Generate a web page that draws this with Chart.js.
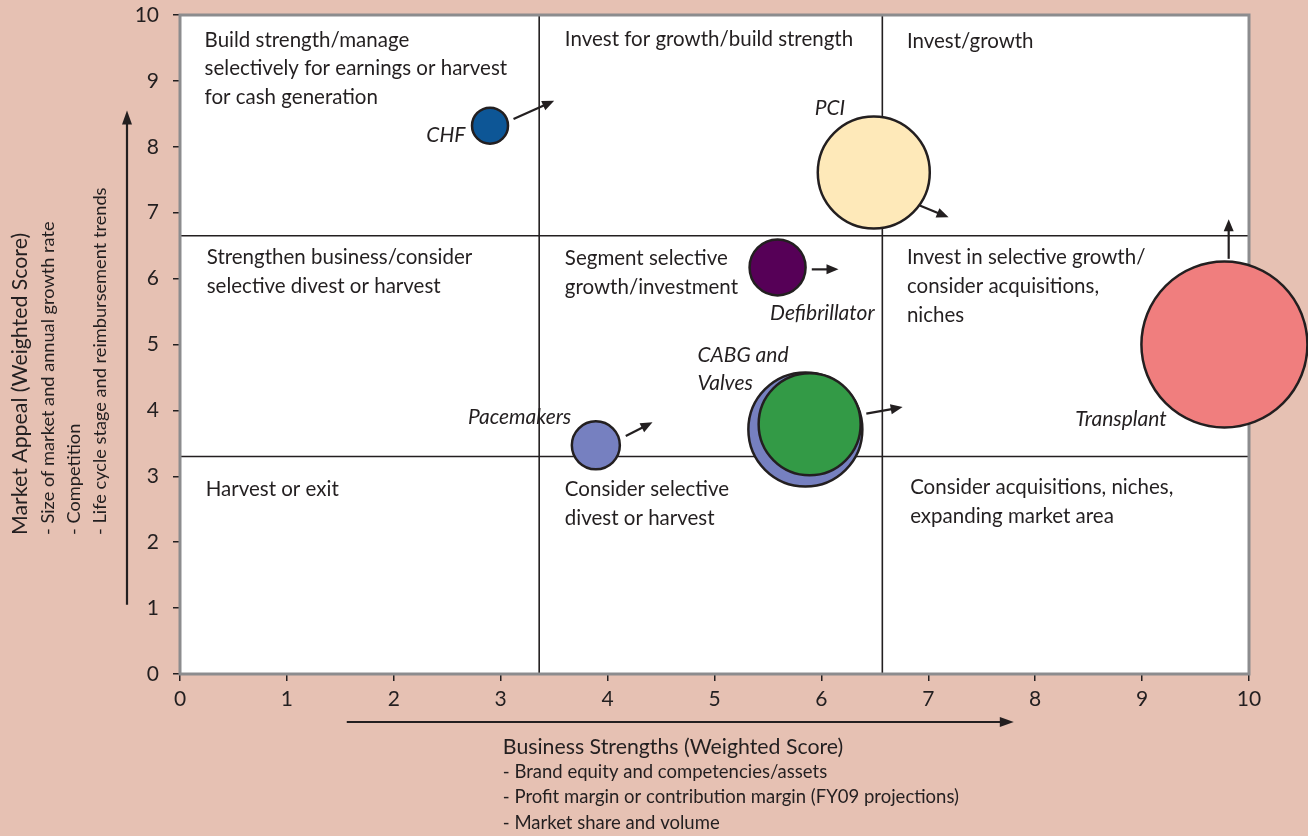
<!DOCTYPE html>
<html><head><meta charset="utf-8">
<script src="https://cdn.jsdelivr.net/npm/chart.js@4.4.1/dist/chart.umd.min.js"></script>
<style>html,body{margin:0;padding:0;background:#e6c1b3;}#wrap{width:1308px;height:836px;position:relative;}</style>
</head><body><div id="wrap"><canvas id="c"></canvas></div>
<script>
// ---- data ----
const products = ['PCI','Transplant','CHF','Defibrillator','Pacemakers','CABG','Valves'];
const businessStrength = [6.49, 9.77, 2.90, 5.59, 3.89, 5.85, 5.89];
const marketAppeal     = [7.61, 5.00, 8.32, 6.17, 3.47, 3.71, 3.79];
const bubbleRadius     = [56, 83, 18, 28, 24, 57, 51];
const bubbleColors     = ['#fee9b9','#f07e7e','#0d5696','#560057','#7680c0','#7680c0','#339a46'];
// trend arrows (from -> to, in score units)
const arrowFromX = [6.92, 9.81, 3.12, 5.91, 4.17, 6.42];
const arrowFromY = [7.11, 6.30, 8.42, 6.14, 3.61, 3.95];
const arrowToX   = [7.19, 9.81, 3.50, 6.16, 4.42, 6.76];
const arrowToY   = [6.93, 6.90, 8.70, 6.14, 3.82, 4.05];
// quadrant dividers
const dividerX = [3.36, 6.57];
const dividerY = [3.30, 6.65];
const tickValues = [0,1,2,3,4,5,6,7,8,9,10];

const quadrantTexts = [
  ['Build strength/manage','selectively for earnings or harvest','for cash generation'],
  ['Invest for growth/build strength'],
  ['Invest/growth'],
  ['Strengthen business/consider','selective divest or harvest'],
  ['Segment selective','growth/investment'],
  ['Invest in selective growth/','consider acquisitions,','niches'],
  ['Harvest or exit'],
  ['Consider selective','divest or harvest'],
  ['Consider acquisitions, niches,','expanding market area']
];
const quadrantPos = [[0.23,9.62],[3.60,9.63],[6.80,9.60],[0.25,6.32],[3.60,6.30],[6.80,6.32],[0.24,2.80],[3.60,2.80],[6.83,2.83]];
const bubbleLabels = [['CHF'],['PCI'],['Defibrillator'],['CABG and','Valves'],['Pacemakers'],['Transplant']];
const bubbleLabelPos = [[2.67,8.18,'right'],[6.08,8.59,'center'],[5.52,5.48,'left'],[4.84,4.83,'left'],[3.66,3.89,'right'],[9.23,3.86,'right']];

const yTitle = ['Market Appeal (Weighted Score)','- Size of market and annual growth rate','- Competition','- Life cycle stage and reimbursement trends'];
const xTitle = ['Business Strengths (Weighted Score)','- Brand equity and competencies/assets','- Profit margin or contribution margin (FY09 projections)','- Market share and volume'];

const INK = '#231f20';
const FONT = 'Lato, "Open Sans", sans-serif';

function arrow(ctx, x1, y1, x2, y2, lw, hl, hw){
  const a = Math.atan2(y2-y1, x2-x1);
  ctx.save();
  ctx.strokeStyle = INK; ctx.fillStyle = INK; ctx.lineWidth = lw;
  ctx.beginPath(); ctx.moveTo(x1,y1);
  ctx.lineTo(x2 - Math.cos(a)*hl*0.8, y2 - Math.sin(a)*hl*0.8); ctx.stroke();
  ctx.translate(x2,y2); ctx.rotate(a);
  ctx.beginPath(); ctx.moveTo(0,0); ctx.lineTo(-hl, -hw/2); ctx.lineTo(-hl, hw/2); ctx.closePath(); ctx.fill();
  ctx.restore();
}

const deco = {
  id:'deco',
  beforeDatasetsDraw(chart){
    const {ctx, chartArea:a, scales:{x,y}} = chart;
    ctx.save();
    ctx.fillStyle = '#ffffff';
    ctx.fillRect(a.left, a.top, a.right-a.left, a.bottom-a.top);
    ctx.strokeStyle = INK; ctx.lineWidth = 1.6;
    dividerX.forEach(v=>{const p=x.getPixelForValue(v); ctx.beginPath(); ctx.moveTo(p,a.top); ctx.lineTo(p,a.bottom); ctx.stroke();});
    dividerY.forEach(v=>{const p=y.getPixelForValue(v); ctx.beginPath(); ctx.moveTo(a.left,p); ctx.lineTo(a.right,p); ctx.stroke();});
    ctx.strokeStyle = '#8c8c8e'; ctx.lineWidth = 3;
    ctx.strokeRect(a.left, a.top, a.right-a.left, a.bottom-a.top);
    // quadrant texts
    ctx.fillStyle = INK; ctx.font = '20.5px ' + FONT; ctx.textAlign='left'; ctx.textBaseline='middle';
    quadrantTexts.forEach((lines,i)=>{
      const px = x.getPixelForValue(quadrantPos[i][0]), py = y.getPixelForValue(quadrantPos[i][1]);
      lines.forEach((t,j)=>ctx.fillText(t, px, py + j*28.7));
    });
    ctx.restore();
  },
  afterDatasetsDraw(chart){
    const {ctx, scales:{x,y}} = chart;
    for(let i=0;i<arrowFromX.length;i++){
      arrow(ctx, x.getPixelForValue(arrowFromX[i]), y.getPixelForValue(arrowFromY[i]),
                 x.getPixelForValue(arrowToX[i]), y.getPixelForValue(arrowToY[i]), 2.2, 12, 10);
    }
    ctx.save();
    ctx.fillStyle = INK; ctx.font = 'italic 21px ' + FONT; ctx.textBaseline='middle';
    bubbleLabels.forEach((lines,i)=>{
      const p = bubbleLabelPos[i];
      ctx.textAlign = p[2];
      const px = x.getPixelForValue(p[0]), py = y.getPixelForValue(p[1]);
      lines.forEach((t,j)=>ctx.fillText(t, px, py + j*28));
    });
    ctx.restore();
  },
  afterDraw(chart){
    const {ctx, chartArea:a, scales:{x,y}} = chart;
    // axis arrows
    arrow(ctx, a.left-53, y.getPixelForValue(1.05), a.left-53, y.getPixelForValue(8.55), 2.2, 14, 10);
    arrow(ctx, x.getPixelForValue(1.56), a.bottom+48, x.getPixelForValue(7.80), a.bottom+48, 2.2, 14, 10);
    ctx.save();
    ctx.fillStyle = INK; ctx.textAlign='left'; ctx.textBaseline='middle';
    // y title
    const yStart = y.getPixelForValue(2.11);
    const yx = [20, 48, 74, 100];
    yTitle.forEach((t,i)=>{
      ctx.save(); ctx.translate(yx[i], yStart); ctx.rotate(-Math.PI/2);
      ctx.font = (i===0?'21.3px ':'18.2px ') + FONT; ctx.fillText(t, 0, 0); ctx.restore();
    });
    // x title
    const xStart = x.getPixelForValue(3.02);
    const xy = [747, 772, 797, 823];
    xTitle.forEach((t,i)=>{
      ctx.font = (i===0?'21.3px ':'18.5px ') + FONT; ctx.fillText(t, xStart, xy[i]);
    });
    ctx.restore();
  }
};

const axisCommon = {
  type:'linear', min:0, max:10,
  afterBuildTicks(s){ s.ticks = tickValues.map(v=>({value:v})); },
  grid:{drawOnChartArea:false, drawTicks:true, tickLength:7, color:INK, lineWidth:1.5},
  border:{display:false},
  ticks:{color:INK, font:{family:'Lato', size:21}}
};

new Chart(document.getElementById('c'), {
  type:'bubble',
  data:{datasets:[{
    label:'Products',
    data: products.map((p,i)=>({x:businessStrength[i], y:marketAppeal[i], r:bubbleRadius[i]})),
    backgroundColor: bubbleColors,
    borderColor: INK, borderWidth: 2.5,
    hoverRadius:0, clip:false
  }]},
  options:{
    responsive:true, maintainAspectRatio:false, animation:false,
    layout:{autoPadding:false, padding:{top:15, right:59, left:0, bottom:0}},
    plugins:{legend:{display:false}, tooltip:{enabled:false}},
    events:[],
    scales:{
      x:{...axisCommon, position:'bottom', ticks:{...axisCommon.ticks, padding:6},
         afterFit(s){ s.height = 162; s.paddingLeft = 0; s.paddingRight = 0; }},
      y:{...axisCommon, position:'left', ticks:{...axisCommon.ticks, padding:14},
         afterFit(s){ s.width = 180; s.paddingTop = 0; s.paddingBottom = 0; }}
    }
  },
  plugins:[deco]
});
</script>
</body></html>
